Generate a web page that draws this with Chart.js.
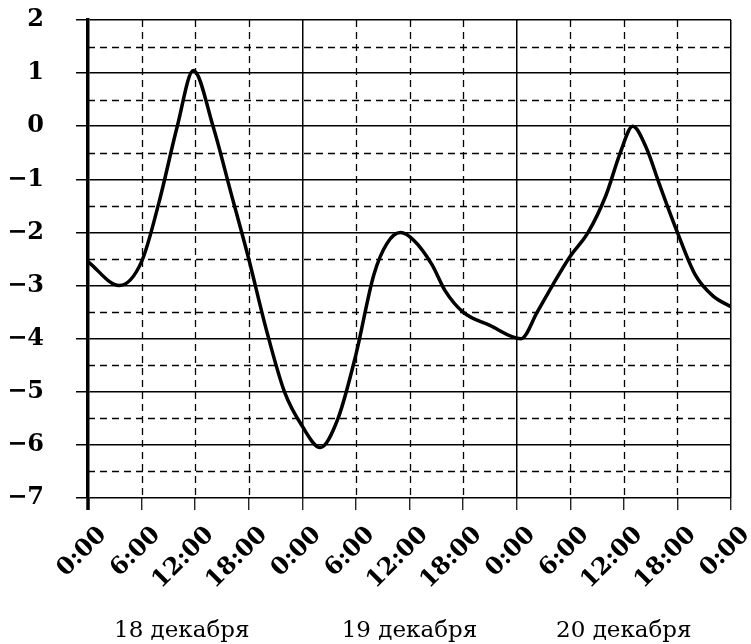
<!DOCTYPE html>
<html>
<head>
<meta charset="utf-8">
<script src="https://cdn.jsdelivr.net/npm/chart.js@4"></script>
<style>
  body { margin: 0; background: #fff; }
  #wrap { width: 751px; height: 644px; }
</style>
</head>
<body>
<div id="wrap"><canvas id="temp_chart" width="751" height="644"></canvas></div>
<script>
// hours since 0:00 on 18 December
const hours = [0, 3.5, 6, 8, 10, 11.8, 14, 16, 18, 20, 22, 24, 26, 28, 30, 32, 33.5, 35, 36.5, 38.5, 40, 42, 45, 48.5, 50.3, 52, 54, 56, 58, 59.6, 61, 62.5, 64, 66, 68, 70, 72];
const temps = [-2.55, -3.0, -2.55, -1.4, 0, 1.05, 0, -1.25, -2.5, -3.85, -5.0, -5.65, -6.05, -5.5, -4.3, -2.8, -2.2, -2.0, -2.15, -2.6, -3.1, -3.5, -3.75, -4.0, -3.5, -3.0, -2.45, -2.0, -1.3, -0.5, 0, -0.4, -1.1, -2.0, -2.8, -3.2, -3.4];
const dayLabels = ["18 декабря", "19 декабря", "20 декабря"];
const dayLabelHours = [10.5, 36, 60];

const points = hours.map((h, i) => ({ x: h, y: temps[i] }));

// dashed half-step grid, axis stub and the day captions
const extras = {
  id: "extras",
  beforeDatasetsDraw(chart) {
    const { ctx, chartArea, scales } = chart;
    ctx.save();
    ctx.strokeStyle = "#000";
    ctx.lineWidth = 1.3;
    ctx.setLineDash([7, 5]);
    for (let v = -6.5; v < 2; v += 1) {
      const y = Math.round(scales.y.getPixelForValue(v)) + 0.5;
      ctx.beginPath();
      ctx.moveTo(chartArea.left, y);
      ctx.lineTo(chartArea.right, y);
      ctx.stroke();
    }
    for (let h = 6; h < 72; h += 6) {
      if (h % 24 === 0) continue;
      const x = Math.round(scales.x.getPixelForValue(h)) + 0.5;
      ctx.beginPath();
      ctx.moveTo(x, chartArea.top);
      ctx.lineTo(x, chartArea.bottom);
      ctx.stroke();
    }
    // left axis runs a little below the plot
    ctx.setLineDash([]);
    ctx.lineWidth = 3.5;
    ctx.beginPath();
    ctx.moveTo(chartArea.left, chartArea.bottom);
    ctx.lineTo(chartArea.left, chartArea.bottom + 12);
    ctx.stroke();
    ctx.restore();
  },
  afterDraw(chart) {
    const { ctx, scales } = chart;
    ctx.save();
    ctx.fillStyle = "#000";
    ctx.font = "23px 'DejaVu Serif'";
    ctx.textAlign = "center";
    ctx.textBaseline = "alphabetic";
    dayLabels.forEach((t, i) => {
      ctx.fillText(t, scales.x.getPixelForValue(dayLabelHours[i]), 637);
    });
    ctx.restore();
  },
};

const ctx = document.getElementById("temp_chart").getContext("2d");
const chart = new Chart(ctx, {
  type: "line",
  data: {
    datasets: [
      {
        data: points,
        borderColor: "#000",
        borderWidth: 3.5,
        pointRadius: 0,
        fill: false,
        cubicInterpolationMode: "monotone",
      },
    ],
  },
  options: {
    responsive: false,
    animation: false,
    layout: { padding: { top: 20, right: 20, left: 0, bottom: 0 } },
    plugins: { legend: { display: false }, tooltip: { enabled: false } },
    scales: {
      x: {
        type: "linear",
        min: 0,
        max: 72,
        afterFit: (s) => {
          s.height = 146;
          s.paddingLeft = 0;
          s.paddingRight = 0;
        },
        ticks: {
          stepSize: 6,
          autoSkip: false,
          minRotation: 45,
          maxRotation: 45,
          padding: 11,
          labelOffset: 15,
          color: "#000",
          font: { family: "DejaVu Serif", size: 24, weight: "bold" },
          callback: (v) => (v % 24) + ":00",
        },
        grid: {
          color: (c) => (c.tick && c.tick.value % 24 === 0 ? "#000" : "rgba(0,0,0,0)"),
          lineWidth: 1.5,
          tickColor: "#000",
          tickLength: 12,
          tickWidth: 1.2,
        },
        border: { display: false },
      },
      y: {
        min: -7,
        max: 2,
        afterFit: (s) => {
          s.width = 88;
          s.paddingTop = 0;
          s.paddingBottom = 0;
        },
        ticks: {
          stepSize: 1,
          padding: 32,
          color: "#000",
          font: { family: "DejaVu Serif", size: 24, weight: "bold" },
          callback: (v) => (v < 0 ? "\u2212" + Math.abs(v) : String(v)),
        },
        grid: {
          color: "#000",
          lineWidth: 1.5,
          tickLength: 12,
        },
        border: { display: true, color: "#000", width: 3.5 },
      },
    },
  },
  plugins: [extras],
});
</script>
</body>
</html>
